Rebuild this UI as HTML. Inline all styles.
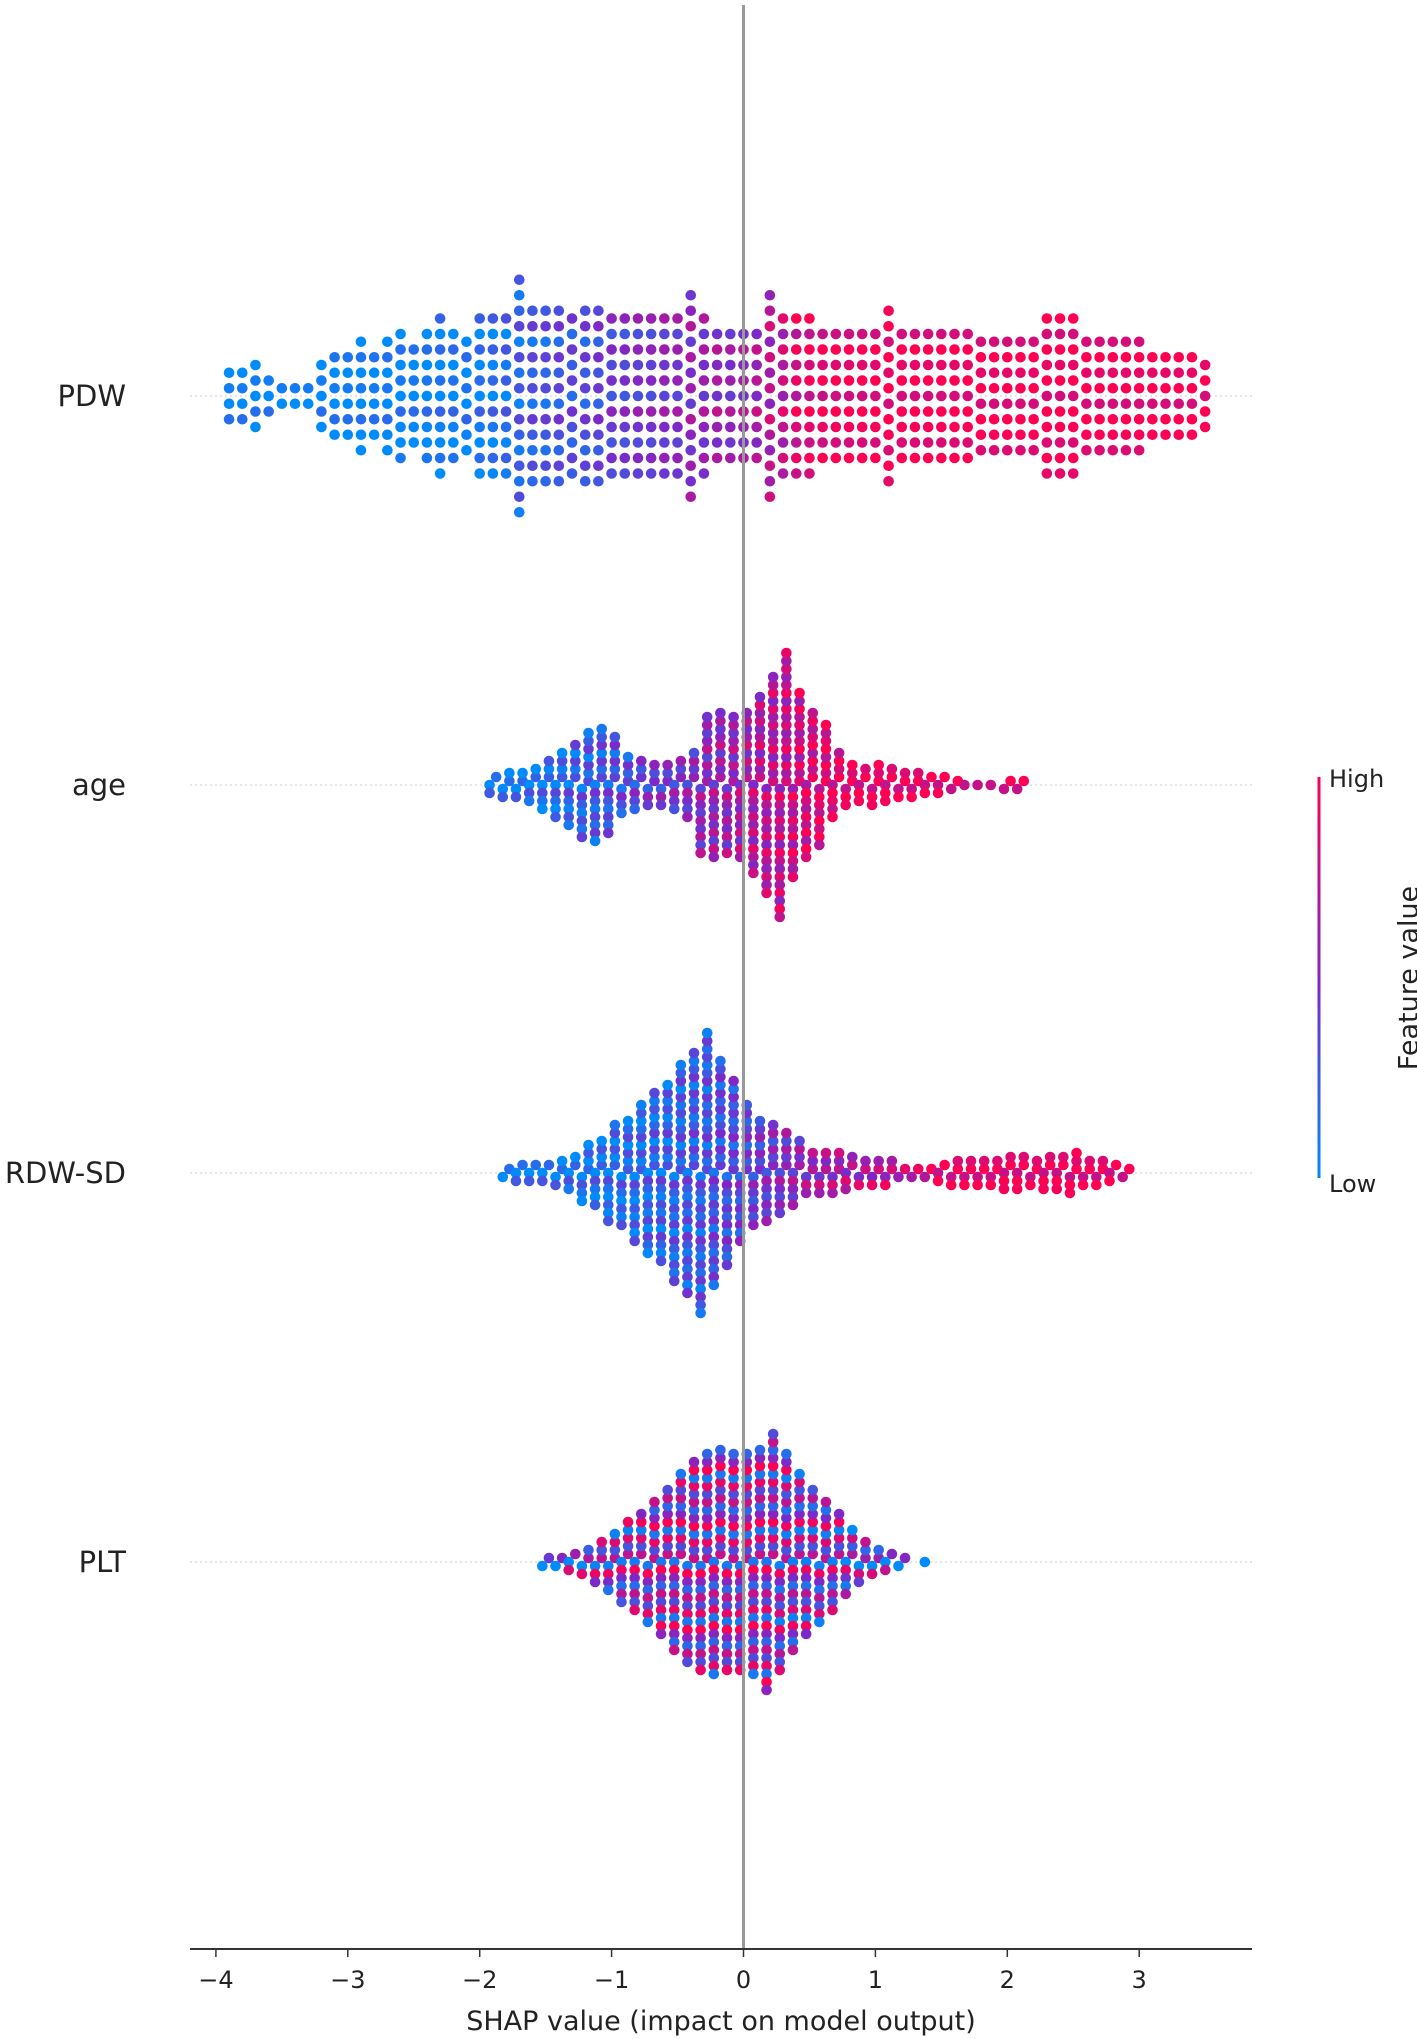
<!DOCTYPE html>
<html><head><meta charset="utf-8"><style>
body{margin:0;background:#fff}
svg{display:block}
text{font-family:"DejaVu Sans","Liberation Sans",sans-serif;fill:#222}
</style></head><body>
<svg id="chart" width="1417" height="2039" viewBox="0 0 1417 2039" xmlns="http://www.w3.org/2000/svg">
<defs><linearGradient id="cb" x1="0" y1="1" x2="0" y2="0">
<stop offset="0" stop-color="rgb(0,139,250)"/><stop offset="0.5" stop-color="rgb(125,40,200)"/><stop offset="1" stop-color="rgb(255,0,82)"/></linearGradient></defs>
<g id="grid"></g>
<g id="dots"></g>
<line x1="743.5" y1="5" x2="743.5" y2="1949" stroke="#999" stroke-width="3"/>
<line x1="190" y1="1949" x2="1252" y2="1949" stroke="#333" stroke-width="2"/>
<g id="xticks"></g>
<text x="721" y="2030" font-size="27" text-anchor="middle">SHAP value (impact on model output)</text>
<g id="ylabels"></g>
<rect x="1317.5" y="777" width="3" height="401" fill="url(#cb)"/>
<text x="1329" y="787" font-size="24">High</text>
<text x="1329" y="1192" font-size="24">Low</text>
<text x="1410" y="978" font-size="27" text-anchor="middle" transform="rotate(-90 1410 978)" dominant-baseline="middle">Feature value</text>
</svg>
<script>
const features = ["PDW","age","RDW-SD","PLT"];
const xTicks = [-4,-3,-2,-1,0,1,2,3];
const binStart = [-3.9,-1.9,-1.8,-1.5];
const pdwCounts = [4,4,5,3,2,2,2,5,6,6,8,6,8,9,7,9,11,9,8,11,11,11,16,12,12,12,11,12,12,11,11,11,11,11,11,14,11,9,9,9,9,14,11,11,11,9,9,9,9,9,12,9,9,9,9,9,9,8,8,8,8,8,11,11,11,8,8,8,8,8,6,6,6,6,5];
const pdwColors = [0,0,0,0,0,0,0,0,0,0,0,0,0.02,0.02,0.02,0.03,0.05,0.05,0.05,0.08,0.1,0.15,0.2,0.25,0.25,0.3,0.3,0.3,0.35,0.4,0.4,0.45,0.45,0.5,0.5,0.55,0.55,0.6,0.55,0.6,0.65,0.7,0.75,0.85,0.9,0.92,0.95,0.95,0.96,0.96,0.97,0.97,0.97,0.97,0.97,0.98,0.98,0.98,0.98,0.98,0.98,0.98,0.98,0.98,0.98,0.98,0.98,0.98,0.98,0.98,0.98,0.98,0.98,0.98,0.98];
const ageCounts = [3,4,4,5,7,9,11,14,15,13,8,7,6,6,7,9,18,19,18,19,23,28,34,24,19,16,9,6,5,6,5,4,4,3,3,2,1,1,1,2,2];
const ageColors = [0.05,0.05,0.08,0.1,0.12,0.15,0.2,0.22,0.25,0.28,0.3,0.35,0.4,0.42,0.45,0.5,0.55,0.58,0.6,0.65,0.7,0.72,0.75,0.8,0.85,0.9,0.92,0.95,0.95,0.96,0.96,0.97,0.97,0.97,0.97,0.97,0.97,0.97,0.97,0.97,0.97];
const rdwCounts = [2,3,3,3,4,5,8,9,13,14,18,21,23,28,31,36,29,24,18,14,13,11,9,6,6,6,5,4,4,4,2,2,2,3,4,4,4,4,5,5,4,5,5,6,4,4,3,2];
const rdwColors = [0.05,0.05,0.05,0.08,0.08,0.1,0.1,0.12,0.12,0.15,0.15,0.18,0.2,0.22,0.25,0.25,0.3,0.32,0.35,0.4,0.45,0.5,0.55,0.6,0.62,0.65,0.68,0.7,0.72,0.75,0.8,0.85,0.9,0.95,0.96,0.97,0.97,0.97,0.97,0.97,0.97,0.97,0.97,0.97,0.97,0.97,0.97,0.97];
const pltCounts = [2,2,3,4,6,8,11,13,16,19,23,26,28,29,28,28,29,33,28,23,19,16,13,9,6,4,3,2,0,1];
const pltColors = [0.2,0.3,0.4,0.45,0.5,0.5,0.5,0.52,0.55,0.55,0.55,0.55,0.55,0.55,0.55,0.55,0.55,0.55,0.5,0.5,0.5,0.5,0.5,0.45,0.4,0.4,0.3,0.3,0.2,0.1];
const counts = [pdwCounts, ageCounts, rdwCounts, pltCounts];
const colors = [pdwColors, ageColors, rdwColors, pltColors];
const colorSpread = [0.15, 0.2, 0.2, 0.45];

const NS = "http://www.w3.org/2000/svg";
const x0 = 743.5, unit = 131.9;
function xScale(v){ return x0 + v*unit; }
const rowY = [396, 785, 1173, 1562];
function yScale(i){ return rowY[i]; }
const dyRow = [15.5, 8, 8, 8];
const stagger = [0, 3.3, 3.3, 3.3];
const pattern = [-1, 0.5, 1, -0.5, 0, 0.8, -0.8];
function cmap(t){
  t = Math.max(0, Math.min(1, t));
  const a=[0,139,250], m=[125,40,200], b=[255,0,82];
  let c;
  if (t<0.5){ const u=t/0.5; c=a.map((v,i)=>v+(m[i]-v)*u); }
  else { const u=(t-0.5)/0.5; c=m.map((v,i)=>v+(b[i]-v)*u); }
  return "rgb("+c.map(Math.round).join(",")+")";
}
const grid = document.getElementById("grid");
const dots = document.getElementById("dots");
const ylab = document.getElementById("ylabels");
features.forEach((f,i)=>{
  const gl = document.createElementNS(NS,"line");
  
  
  gl.setAttribute("x1",190); gl.setAttribute("x2",1252);
  gl.setAttribute("y1",yScale(i)); gl.setAttribute("y2",yScale(i));
  gl.setAttribute("stroke","#ccc"); gl.setAttribute("stroke-dasharray","2,3");
  grid.appendChild(gl);
  const t = document.createElementNS(NS,"text");
  
  
  t.setAttribute("x",126); t.setAttribute("y",yScale(i)+10);
  t.setAttribute("text-anchor","end"); t.setAttribute("font-size","29");
  t.textContent = f;
  ylab.appendChild(t);
  const cs = counts[i], cl = colors[i];
  cs.forEach((n,b)=>{
    const v = binStart[i] + b*0.1;
    const cx = xScale(v);
    for (let k=0;k<n;k++){
      const step = Math.ceil(k/2) * (k%2 ? -1 : 1);
      const off = step*dyRow[i] + (n%2===0 ? dyRow[i]/2 : 0);
      const c = document.createElementNS(NS,"circle");
      
      
      c.setAttribute("cx", cx + (k%2 ? stagger[i] : -stagger[i]));
      c.setAttribute("cy", yScale(i) + off);
      c.setAttribute("r", 5.3);
      c.setAttribute("fill", cmap(cl[b] + colorSpread[i]*pattern[k%pattern.length]));
      dots.appendChild(c);
    }
  });
});
const xt = document.getElementById("xticks");
xTicks.forEach(v=>{
  const l = document.createElementNS(NS,"line");
  
  
  l.setAttribute("x1",xScale(v)); l.setAttribute("x2",xScale(v));
  l.setAttribute("y1",1949); l.setAttribute("y2",1957);
  l.setAttribute("stroke","#333"); l.setAttribute("stroke-width","1.5");
  xt.appendChild(l);
  const t = document.createElementNS(NS,"text");
  
  
  t.setAttribute("x",xScale(v)); t.setAttribute("y",1988);
  t.setAttribute("text-anchor","middle"); t.setAttribute("font-size","24");
  t.textContent = v<0 ? "\u2212"+Math.abs(v) : String(v);
  xt.appendChild(t);
});
</script>
</body></html>
